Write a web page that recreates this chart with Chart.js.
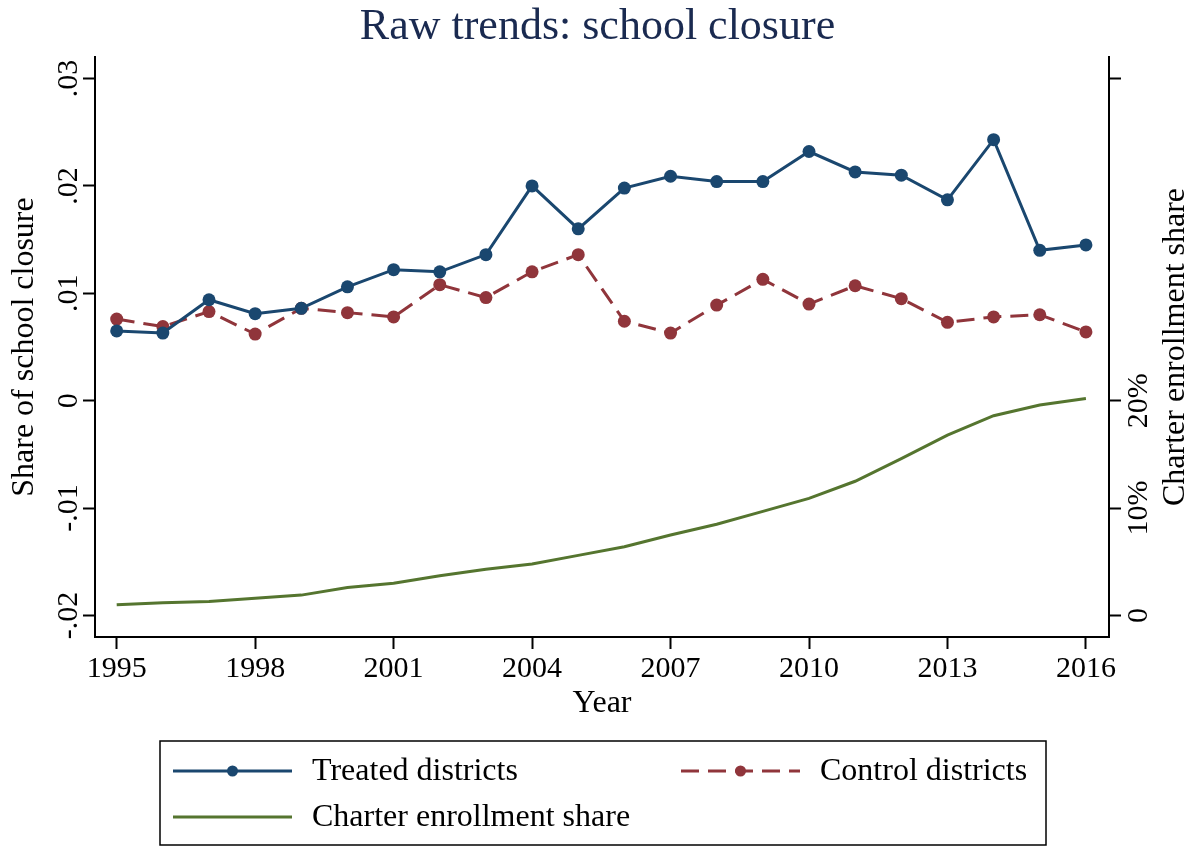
<!DOCTYPE html>
<html>
<head>
<meta charset="utf-8">
<script src="https://cdn.jsdelivr.net/npm/chart.js@4.4.1/dist/chart.umd.min.js"></script>
<style>
  html, body { margin: 0; padding: 0; background: #ffffff; }
  #wrap { width: 1195px; height: 846px; position: relative; }
</style>
</head>
<body>
<div id="wrap"><canvas id="c" width="1195" height="846"></canvas></div>
<script>
// ---- data ----
const years = [1995, 1996, 1997, 1998, 1999, 2000, 2001, 2002, 2003, 2004, 2005,
               2006, 2007, 2008, 2009, 2010, 2011, 2012, 2013, 2014, 2015, 2016];
const treated = [0.0065, 0.0063, 0.0094, 0.0081, 0.0086, 0.0106, 0.0122, 0.0120, 0.0136, 0.0200, 0.0160,
                 0.0198, 0.0209, 0.0204, 0.0204, 0.0232, 0.0213, 0.0210, 0.0187, 0.0243, 0.0140, 0.0145];
const control = [0.0076, 0.0069, 0.0083, 0.0062, 0.0086, 0.0082, 0.0078, 0.0108, 0.0096, 0.0120, 0.0136,
                 0.0074, 0.0063, 0.0089, 0.0113, 0.0090, 0.0107, 0.0095, 0.0073, 0.0078, 0.0080, 0.0064];
const charter = [0.010, 0.012, 0.013, 0.016, 0.019, 0.026, 0.030, 0.037, 0.043, 0.048, 0.056,
                 0.064, 0.075, 0.085, 0.097, 0.109, 0.125, 0.146, 0.168, 0.186, 0.196, 0.202];
const xTicks = [1995, 1998, 2001, 2004, 2007, 2010, 2013, 2016];
const leftTicks = [-0.02, -0.01, 0, 0.01, 0.02, 0.03];
const leftTickLabels = ["-.02", "-.01", "0", ".01", ".02", ".03"];
const rightTicks = [0, 0.1, 0.2, 0.5];
const rightTickLabels = ["0", "10%", "20%", ""];
const seriesNames = ["Treated districts", "Control districts", "Charter enrollment share"];

const NAVY = "#1a476f", MAROON = "#90353b", GREEN = "#55752f";
const FONT = "'Liberation Serif', 'DejaVu Serif', serif";
const DASH = [18, 9];

const pts = arr => years.map((y, i) => ({ x: y, y: arr[i] }));

const customText = {
  id: 'customText',
  afterDraw(chart) {
    const ctx = chart.ctx;
    const yl = chart.scales.y, yr = chart.scales.y2, area = chart.chartArea;
    ctx.save();
    ctx.fillStyle = "#000";
    ctx.textAlign = "center";
    ctx.textBaseline = "middle";
    ctx.font = "30px " + FONT;
    const rot = (txt, x, y) => {
      ctx.save(); ctx.translate(x, y); ctx.rotate(-Math.PI / 2); ctx.fillText(txt, 0, 0); ctx.restore();
    };
    leftTicks.forEach((v, i) => rot(leftTickLabels[i], 69, yl.getPixelForValue(v)));
    rightTicks.forEach((v, i) => { if (rightTickLabels[i]) rot(rightTickLabels[i], 1139, yr.getPixelForValue(v)); });
    ctx.font = "32px " + FONT;
    const midY = (area.top + area.bottom) / 2;
    rot("Share of school closure", 25, midY);
    rot("Charter enrollment share", 1176, midY);
    ctx.fillText("Year", (area.left + area.right) / 2, 704);

    // legend
    const lx = 160, ly = 741, lw = 886, lh = 104;
    ctx.lineWidth = 1.5; ctx.strokeStyle = "#000";
    ctx.strokeRect(lx, ly, lw, lh);
    const items = [
      { name: seriesNames[0], color: NAVY, dash: [], point: true, x: 173, y: 771 },
      { name: seriesNames[1], color: MAROON, dash: DASH, point: true, x: 681, y: 771 },
      { name: seriesNames[2], color: GREEN, dash: [], point: false, x: 173, y: 817 }
    ];
    ctx.font = "32px " + FONT;
    ctx.textAlign = "left";
    items.forEach(it => {
      ctx.save();
      ctx.strokeStyle = it.color; ctx.lineWidth = 3; ctx.setLineDash(it.dash);
      ctx.beginPath(); ctx.moveTo(it.x, it.y); ctx.lineTo(it.x + 119, it.y); ctx.stroke();
      ctx.setLineDash([]);
      if (it.point) {
        ctx.fillStyle = it.color;
        ctx.beginPath(); ctx.arc(it.x + 59.5, it.y, 5.5, 0, Math.PI * 2); ctx.fill();
      }
      ctx.restore();
      ctx.fillStyle = "#000";
      ctx.fillText(it.name, it.x + 139, it.y + 1);
    });
    ctx.restore();
  }
};

new Chart(document.getElementById('c'), {
  type: 'line',
  data: {
    datasets: [
      { label: seriesNames[0], data: pts(treated), yAxisID: 'y', borderColor: NAVY, backgroundColor: NAVY,
        borderWidth: 3, pointRadius: 6.5, pointHoverRadius: 6.5, pointBorderWidth: 0, tension: 0 },
      { label: seriesNames[1], data: pts(control), yAxisID: 'y', borderColor: MAROON, backgroundColor: MAROON,
        borderWidth: 3, borderDash: DASH, pointRadius: 6.5, pointHoverRadius: 6.5, pointBorderWidth: 0, tension: 0 },
      { label: seriesNames[2], data: pts(charter), yAxisID: 'y2', borderColor: GREEN, backgroundColor: GREEN,
        borderWidth: 3, pointRadius: 0, tension: 0 }
    ]
  },
  options: {
    responsive: false,
    animation: false,
    devicePixelRatio: 1,
    layout: { padding: 0 },
    plugins: {
      legend: { display: false },
      tooltip: { enabled: false },
      title: {
        display: true, text: "Raw trends: school closure", color: "#1a2a50",
        font: { family: FONT, size: 44, weight: 'normal', lineHeight: 1.1 }, padding: { top: 3, bottom: 5.6 }
      }
    },
    scales: {
      x: {
        type: 'linear', min: 1994.53, max: 2016.5,
        afterBuildTicks: s => { s.ticks = xTicks.map(v => ({ value: v })); },
        afterFit: s => { s.height = 209; },
        ticks: { color: "#000", font: { family: FONT, size: 30 }, padding: 2, callback: v => String(v), autoSkip: false, maxRotation: 0 },
        grid: { drawOnChartArea: false, drawTicks: true, tickLength: 12, tickColor: "#000", tickWidth: 2 },
        border: { display: true, color: "#000", width: 2 }
      },
      y: {
        position: 'left', min: -0.0220, max: 0.0320,
        afterBuildTicks: s => { s.ticks = leftTicks.map(v => ({ value: v })); },
        afterFit: s => { s.width = 95; },
        ticks: { display: false },
        grid: { drawOnChartArea: false, drawTicks: true, tickLength: 12, tickColor: "#000", tickWidth: 2 },
        border: { display: true, color: "#000", width: 2 }
      },
      y2: {
        position: 'right', min: -0.020, max: 0.520,
        afterBuildTicks: s => { s.ticks = rightTicks.map(v => ({ value: v })); },
        afterFit: s => { s.width = 86; },
        ticks: { display: false },
        grid: { drawOnChartArea: false, drawTicks: true, tickLength: 12, tickColor: "#000", tickWidth: 2 },
        border: { display: true, color: "#000", width: 2 }
      }
    }
  },
  plugins: [customText]
});
</script>
</body>
</html>
